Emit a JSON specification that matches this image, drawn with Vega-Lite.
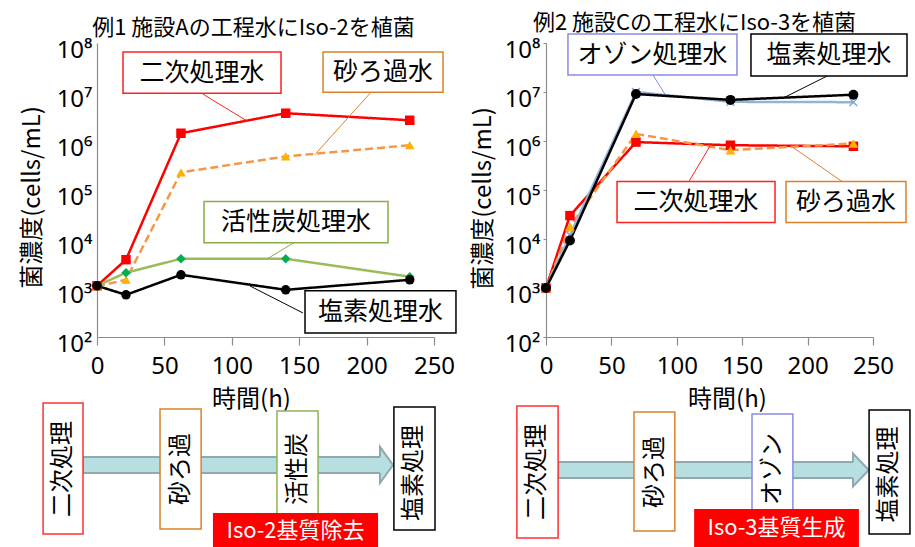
{
  "$schema": "https://vega.github.io/schema/vega-lite/v6.json",
  "background": "white",
  "padding": {"left": 20, "top": 12, "right": 5, "bottom": 0},
  "bounds": "flush",
  "columns": 2,
  "spacing": {"row": 63, "column": 112},
  "resolve": {"scale": {"stroke": "independent", "fill": "independent", "shape": "independent", "size": "independent", "strokeDash": "independent"}},
  "config": {
    "view": {"stroke": null},
    "font": "Noto Sans CJK JP",
    "title": {"font": "Noto Sans CJK JP", "fontSize": 22, "fontWeight": "normal", "color": "#000000", "anchor": "middle", "frame": "group", "offset": -2},
    "axis": {
      "domainColor": "#8C8C8C", "domainWidth": 1.2, "tickColor": "#8C8C8C", "grid": false,
      "labelFont": "Noto Sans", "labelFontSize": 24, "labelColor": "#000000",
      "labelOverlap": false, "labelFlush": false,
      "titleFont": "Noto Sans CJK JP", "titleFontSize": 24, "titleFontWeight": "normal", "titleColor": "#000000"
    },
    "axisX": {"tickSize": 8, "tickWidth": 1.2, "labelPadding": 9},
    "axisY": {"ticks": false, "labelPadding": 5, "labelBaseline": "middle", "labelOffset": 7},
    "text": {"font": "Noto Sans CJK JP", "color": "#000000"}
  },
  "datasets": {
    "plantA": [
      {"water": "二次処理水", "time": 0, "cells": 1110},
      {"water": "二次処理水", "time": 21.5, "cells": 3780},
      {"water": "二次処理水", "time": 62.3, "cells": 1440000},
      {"water": "二次処理水", "time": 140, "cells": 3690000},
      {"water": "二次処理水", "time": 232, "cells": 2650000},
      {"water": "砂ろ過水", "time": 0, "cells": 1080},
      {"water": "砂ろ過水", "time": 21.5, "cells": 1480},
      {"water": "砂ろ過水", "time": 62.3, "cells": 229000},
      {"water": "砂ろ過水", "time": 140, "cells": 485000},
      {"water": "砂ろ過水", "time": 232, "cells": 820000},
      {"water": "活性炭処理水", "time": 0, "cells": 1110},
      {"water": "活性炭処理水", "time": 21.5, "cells": 2050},
      {"water": "活性炭処理水", "time": 62.3, "cells": 3950},
      {"water": "活性炭処理水", "time": 140, "cells": 3950},
      {"water": "活性炭処理水", "time": 232, "cells": 1700},
      {"water": "塩素処理水", "time": 0, "cells": 1110},
      {"water": "塩素処理水", "time": 21.5, "cells": 725},
      {"water": "塩素処理水", "time": 62.3, "cells": 1860},
      {"water": "塩素処理水", "time": 140, "cells": 918},
      {"water": "塩素処理水", "time": 232, "cells": 1470}
    ],
    "plantC": [
      {"water": "二次処理水", "time": 0, "cells": 1000},
      {"water": "二次処理水", "time": 18.3, "cells": 30000},
      {"water": "二次処理水", "time": 68.8, "cells": 950000},
      {"water": "二次処理水", "time": 141, "cells": 820000},
      {"water": "二次処理水", "time": 235, "cells": 780000},
      {"water": "砂ろ過水", "time": 0, "cells": 1000},
      {"water": "砂ろ過水", "time": 18.3, "cells": 18000},
      {"water": "砂ろ過水", "time": 68.8, "cells": 1400000},
      {"water": "砂ろ過水", "time": 141, "cells": 650000},
      {"water": "砂ろ過水", "time": 235, "cells": 890000},
      {"water": "オゾン処理水", "time": 0, "cells": 1000},
      {"water": "オゾン処理水", "time": 18.3, "cells": 12000},
      {"water": "オゾン処理水", "time": 68.8, "cells": 10000000},
      {"water": "オゾン処理水", "time": 141, "cells": 6300000},
      {"water": "オゾン処理水", "time": 235, "cells": 6200000},
      {"water": "塩素処理水", "time": 0, "cells": 1000},
      {"water": "塩素処理水", "time": 18.3, "cells": 9300},
      {"water": "塩素処理水", "time": 68.8, "cells": 9100000},
      {"water": "塩素処理水", "time": 141, "cells": 6900000},
      {"water": "塩素処理水", "time": 235, "cells": 8800000}
    ],
    "notesA": [
      {"water": "二次処理水", "t1": 19.3, "t2": 136.5, "c1": 65500000, "c2": 9460000, "tm": 77.9, "cm": 24900000, "lt1": 78.6, "lc1": 9040000, "lt2": 112, "lc2": 2500000},
      {"water": "砂ろ過水", "t1": 167.7, "t2": 256.7, "c1": 65500000, "c2": 9930000, "tm": 212.2, "cm": 25500000, "lt1": 203.3, "lc1": 9930000, "lt2": 161.7, "lc2": 530000},
      {"water": "活性炭処理水", "t1": 79.4, "t2": 215.9, "c1": 58200, "c2": 8410, "tm": 147.6, "cm": 22100, "lt1": 146.1, "lc1": 8410, "lt2": 126.1, "lc2": 3900},
      {"water": "塩素処理水", "t1": 154.3, "t2": 266.3, "c1": 875, "c2": 121, "tm": 210.3, "cm": 325, "lt1": 152.8, "lc1": 309, "lt2": 113.5, "lc2": 1100}
    ],
    "notesC": [
      {"water": "オゾン処理水", "t1": 16.8, "t2": 146.0, "c1": 153000000, "c2": 22100000, "tm": 81.4, "cm": 58200000, "lt1": 81.8, "lc1": 22100000, "lt2": 91.0, "lc2": 9000000},
      {"water": "塩素処理水", "t1": 156.7, "t2": 276.0, "c1": 153000000, "c2": 21100000, "tm": 216.4, "cm": 56900000, "lt1": 214.8, "lc1": 21100000, "lt2": 181.2, "lc2": 7500000},
      {"water": "二次処理水", "t1": 54.3, "t2": 175.1, "c1": 149000, "c2": 21600, "tm": 114.7, "cm": 56800, "lt1": 109.3, "lc1": 149000, "lt2": 126.1, "lc2": 850000},
      {"water": "砂ろ過水", "t1": 183.5, "t2": 275.2, "c1": 149000, "c2": 21600, "tm": 229.4, "cm": 56800, "lt1": 226.3, "lc1": 149000, "lt2": 188.8, "lc2": 740000}
    ],
    "flowA": [
      {"stage": "二次処理", "x1": -16.0, "x2": -4.15, "y1": 10.1, "y2": 98.0, "xm": -10.1, "ym": 53.7},
      {"stage": "砂ろ過", "x1": 18.7, "x2": 30.9, "y1": 13.4, "y2": 94.0, "xm": 24.8, "ym": 53.7},
      {"stage": "活性炭", "x1": 53.4, "x2": 65.6, "y1": 14.8, "y2": 92.6, "xm": 59.5, "ym": 53.7},
      {"stage": "塩素処理", "x1": 88.1, "x2": 100.3, "y1": 12.8, "y2": 95.3, "xm": 94.2, "ym": 51.0}
    ],
    "flowC": [
      {"stage": "二次処理", "x1": -8.9, "x2": 3.7, "y1": 7.4, "y2": 96.0, "xm": -2.6, "ym": 51.7},
      {"stage": "砂ろ過", "x1": 26.9, "x2": 39.4, "y1": 12.1, "y2": 91.9, "xm": 33.2, "ym": 51.7},
      {"stage": "オゾン", "x1": 63.0, "x2": 75.5, "y1": 21.5, "y2": 90.6, "xm": 69.3, "ym": 53.7},
      {"stage": "塩素処理", "x1": 98.8, "x2": 111.3, "y1": 10.1, "y2": 93.3, "xm": 105.0, "ym": 50.0}
    ]
  },
  "concat": [
    {
      "width": 337,
      "height": 294,
      "title": {"text": "例1 施設Aの工程水にIso-2を植菌", "dx": -12},
      "layer": [
        {
          "data": {"name": "plantA"},
          "mark": {"type": "line", "strokeWidth": 2.5, "clip": false},
          "encoding": {
            "x": {"field": "time", "type": "quantitative", "scale": {"domain": [0, 250], "nice": false},
                  "axis": {"values": [0, 50, 100, 150, 200, 250], "title": "時間(h)", "titleX": 154, "titleY": 62, "titleBaseline": "middle", "titleAlign": "center"}},
            "y": {"field": "cells", "type": "quantitative", "scale": {"type": "log", "domain": [100, 100000000], "nice": false},
                  "axis": {"values": [100, 1000, 10000, 100000, 1000000, 10000000, 100000000],
                           "labelExpr": "'10' + ['⁰','¹','²','³','⁴','⁵','⁶','⁷','⁸'][round(log(datum.value) / LN10)]",
                           "title": "菌濃度(cells/mL)", "titleX": -65, "titleY": 154, "titleBaseline": "middle", "titleAlign": "center"}},
            "stroke": {"field": "water", "type": "nominal", "legend": null,
                       "scale": {"domain": ["二次処理水", "砂ろ過水", "活性炭処理水", "塩素処理水"], "range": ["#FF0000", "#F79646", "#9BBB59", "#000000"]}},
            "strokeDash": {"field": "water", "type": "nominal", "legend": null,
                           "scale": {"domain": ["二次処理水", "砂ろ過水", "活性炭処理水", "塩素処理水"], "range": [[1, 0], [8, 4], [1, 0], [1, 0]]}}
          }
        },
        {
          "data": {"name": "plantA"},
          "mark": {"type": "point", "filled": true, "opacity": 1, "clip": false},
          "encoding": {
            "x": {"field": "time", "type": "quantitative", "scale": {"domain": [0, 250], "nice": false}},
            "y": {"field": "cells", "type": "quantitative", "scale": {"type": "log", "domain": [100, 100000000], "nice": false}},
            "shape": {"field": "water", "type": "nominal", "legend": null,
                      "scale": {"domain": ["二次処理水", "砂ろ過水", "活性炭処理水", "塩素処理水"], "range": ["square", "triangle-up", "diamond", "circle"]}},
            "fill": {"field": "water", "type": "nominal", "legend": null,
                     "scale": {"domain": ["二次処理水", "砂ろ過水", "活性炭処理水", "塩素処理水"], "range": ["#FF0000", "#FFB000", "#00B050", "#000000"]}},
            "size": {"field": "water", "type": "nominal", "legend": null,
                     "scale": {"domain": ["二次処理水", "砂ろ過水", "活性炭処理水", "塩素処理水"], "range": [90, 90, 45, 72]}}
          }
        },
        {
          "data": {"name": "notesA"},
          "layer": [
            {
              "mark": {"type": "rule", "strokeWidth": 1, "clip": false},
              "encoding": {
                "x": {"field": "lt1", "type": "quantitative", "scale": {"domain": [0, 250], "nice": false}},
                "x2": {"field": "lt2"},
                "y": {"field": "lc1", "type": "quantitative", "scale": {"type": "log", "domain": [100, 100000000], "nice": false}},
                "y2": {"field": "lc2"},
                "stroke": {"field": "water", "type": "nominal", "legend": null,
                           "scale": {"domain": ["二次処理水", "砂ろ過水", "活性炭処理水", "塩素処理水"], "range": ["#FF2020", "#D9822B", "#86AE4A", "#000000"]}}
              }
            },
            {
              "mark": {"type": "rect", "fill": "white", "strokeWidth": 1.5, "clip": false},
              "encoding": {
                "x": {"field": "t1", "type": "quantitative", "scale": {"domain": [0, 250], "nice": false}},
                "x2": {"field": "t2"},
                "y": {"field": "c1", "type": "quantitative", "scale": {"type": "log", "domain": [100, 100000000], "nice": false}},
                "y2": {"field": "c2"},
                "stroke": {"field": "water", "type": "nominal", "legend": null,
                           "scale": {"domain": ["二次処理水", "砂ろ過水", "活性炭処理水", "塩素処理水"], "range": ["#FF2020", "#D9822B", "#86AE4A", "#000000"]}}
              }
            },
            {
              "mark": {"type": "text", "fontSize": 25, "align": "center", "baseline": "middle", "clip": false},
              "encoding": {
                "x": {"field": "tm", "type": "quantitative", "scale": {"domain": [0, 250], "nice": false}},
                "y": {"field": "cm", "type": "quantitative", "scale": {"type": "log", "domain": [100, 100000000], "nice": false}},
                "text": {"field": "water"}
              }
            }
          ]
        }
      ],
      "resolve": {"scale": {"stroke": "independent"}}
    },
    {
      "width": 327,
      "height": 294,
      "title": {"text": "例2 施設Cの工程水にIso-3を植菌", "dx": -15},
      "layer": [
        {
          "data": {"name": "plantC"},
          "mark": {"type": "line", "strokeWidth": 2.5, "clip": false},
          "encoding": {
            "x": {"field": "time", "type": "quantitative", "scale": {"domain": [0, 250], "nice": false},
                  "axis": {"values": [0, 50, 100, 150, 200, 250], "title": "時間(h)", "titleX": 181, "titleY": 62, "titleBaseline": "middle", "titleAlign": "center"}},
            "y": {"field": "cells", "type": "quantitative", "scale": {"type": "log", "domain": [100, 100000000], "nice": false},
                  "axis": {"values": [100, 1000, 10000, 100000, 1000000, 10000000, 100000000],
                           "labelExpr": "'10' + ['⁰','¹','²','³','⁴','⁵','⁶','⁷','⁸'][round(log(datum.value) / LN10)]",
                           "ticks": true, "tickSize": 3, "labelPadding": 3,
                           "title": "菌濃度(cells/mL)", "titleX": -63, "titleY": 155, "titleBaseline": "middle", "titleAlign": "center"}},
            "stroke": {"field": "water", "type": "nominal", "legend": null,
                       "scale": {"domain": ["二次処理水", "砂ろ過水", "オゾン処理水", "塩素処理水"], "range": ["#FF0000", "#F79646", "#95B3D7", "#000000"]}},
            "strokeDash": {"field": "water", "type": "nominal", "legend": null,
                           "scale": {"domain": ["二次処理水", "砂ろ過水", "オゾン処理水", "塩素処理水"], "range": [[1, 0], [8, 4], [1, 0], [1, 0]]}}
          }
        },
        {
          "data": {"name": "plantC"},
          "transform": [{"filter": "datum.water === 'オゾン処理水'"}],
          "mark": {"type": "point", "shape": "M-1,-1L1,1M-1,1L1,-1", "size": 60, "filled": false, "stroke": "#7FA7DC", "strokeWidth": 1.5, "opacity": 1, "clip": false},
          "encoding": {
            "x": {"field": "time", "type": "quantitative", "scale": {"domain": [0, 250], "nice": false}},
            "y": {"field": "cells", "type": "quantitative", "scale": {"type": "log", "domain": [100, 100000000], "nice": false}}
          }
        },
        {
          "data": {"name": "plantC"},
          "transform": [{"filter": "datum.water !== 'オゾン処理水'"}],
          "mark": {"type": "point", "filled": true, "opacity": 1, "clip": false},
          "encoding": {
            "x": {"field": "time", "type": "quantitative", "scale": {"domain": [0, 250], "nice": false}},
            "y": {"field": "cells", "type": "quantitative", "scale": {"type": "log", "domain": [100, 100000000], "nice": false}},
            "shape": {"field": "water", "type": "nominal", "legend": null,
                      "scale": {"domain": ["二次処理水", "砂ろ過水", "塩素処理水"], "range": ["square", "triangle-up", "circle"]}},
            "fill": {"field": "water", "type": "nominal", "legend": null,
                     "scale": {"domain": ["二次処理水", "砂ろ過水", "塩素処理水"], "range": ["#FF0000", "#FFB000", "#000000"]}},
            "size": {"field": "water", "type": "nominal", "legend": null,
                     "scale": {"domain": ["二次処理水", "砂ろ過水", "塩素処理水"], "range": [90, 100, 72]}}
          }
        },
        {
          "data": {"name": "notesC"},
          "layer": [
            {
              "mark": {"type": "rule", "strokeWidth": 1, "clip": false},
              "encoding": {
                "x": {"field": "lt1", "type": "quantitative", "scale": {"domain": [0, 250], "nice": false}},
                "x2": {"field": "lt2"},
                "y": {"field": "lc1", "type": "quantitative", "scale": {"type": "log", "domain": [100, 100000000], "nice": false}},
                "y2": {"field": "lc2"},
                "stroke": {"field": "water", "type": "nominal", "legend": null,
                           "scale": {"domain": ["二次処理水", "砂ろ過水", "オゾン処理水", "塩素処理水"], "range": ["#FF2020", "#D9822B", "#8A8AE6", "#000000"]}}
              }
            },
            {
              "mark": {"type": "rect", "fill": "white", "strokeWidth": 1.5, "clip": false},
              "encoding": {
                "x": {"field": "t1", "type": "quantitative", "scale": {"domain": [0, 250], "nice": false}},
                "x2": {"field": "t2"},
                "y": {"field": "c1", "type": "quantitative", "scale": {"type": "log", "domain": [100, 100000000], "nice": false}},
                "y2": {"field": "c2"},
                "stroke": {"field": "water", "type": "nominal", "legend": null,
                           "scale": {"domain": ["二次処理水", "砂ろ過水", "オゾン処理水", "塩素処理水"], "range": ["#FF2020", "#D9822B", "#8A8AE6", "#000000"]}}
              }
            },
            {
              "mark": {"type": "text", "fontSize": 25, "align": "center", "baseline": "middle", "clip": false},
              "encoding": {
                "x": {"field": "tm", "type": "quantitative", "scale": {"domain": [0, 250], "nice": false}},
                "y": {"field": "cm", "type": "quantitative", "scale": {"type": "log", "domain": [100, 100000000], "nice": false}},
                "text": {"field": "water"}
              }
            }
          ]
        }
      ],
      "resolve": {"scale": {"stroke": "independent"}}
    },
    {
      "width": 337,
      "height": 149,
      "layer": [
        {
          "data": {"values": [{"x1": -4.15, "x2": 84.6, "y1": 51.0, "y2": 61.7}]},
          "mark": {"type": "rect", "fill": "#B7DEE1", "stroke": "#8FA9AC", "strokeWidth": 2, "clip": false},
          "encoding": {
            "x": {"field": "x1", "type": "quantitative", "scale": {"domain": [0, 100], "nice": false, "zero": false}, "axis": null},
            "x2": {"field": "x2"},
            "y": {"field": "y1", "type": "quantitative", "scale": {"domain": [0, 100], "nice": false, "zero": false}, "axis": null},
            "y2": {"field": "y2"}
          }
        },
        {
          "data": {"values": [{"x": 85.9, "y": 56.4}]},
          "mark": {"type": "point", "shape": "M-0.36,-0.46L-0.36,-1L0.36,0L-0.36,1L-0.36,0.46", "size": 1296, "filled": true, "fill": "#B7DEE1", "stroke": "#8FA9AC", "strokeWidth": 2, "opacity": 1, "clip": false},
          "encoding": {
            "x": {"field": "x", "type": "quantitative", "scale": {"domain": [0, 100], "nice": false, "zero": false}},
            "y": {"field": "y", "type": "quantitative", "scale": {"domain": [0, 100], "nice": false, "zero": false}}
          }
        },
        {
          "data": {"name": "flowA"},
          "mark": {"type": "rect", "fill": "white", "strokeWidth": 1.5, "clip": false},
          "encoding": {
            "x": {"field": "x1", "type": "quantitative", "scale": {"domain": [0, 100], "nice": false, "zero": false}},
            "x2": {"field": "x2"},
            "y": {"field": "y1", "type": "quantitative", "scale": {"domain": [0, 100], "nice": false, "zero": false}},
            "y2": {"field": "y2"},
            "stroke": {"field": "stage", "type": "nominal", "legend": null,
                       "scale": {"domain": ["二次処理", "砂ろ過", "活性炭", "塩素処理"], "range": ["#FF3030", "#D9822B", "#8DB454", "#000000"]}}
          }
        },
        {
          "data": {"name": "flowA"},
          "mark": {"type": "text", "angle": 270, "fontSize": 24, "align": "center", "baseline": "middle", "clip": false},
          "encoding": {
            "x": {"field": "xm", "type": "quantitative", "scale": {"domain": [0, 100], "nice": false, "zero": false}},
            "y": {"field": "ym", "type": "quantitative", "scale": {"domain": [0, 100], "nice": false, "zero": false}},
            "text": {"field": "stage"}
          }
        },
        {
          "data": {"values": [{"x1": 34.4, "x2": 83.4, "y1": 0, "y2": 24.2, "xm": 58.9, "ym": 12.1, "label": "Iso-2基質除去"}]},
          "layer": [
            {
              "mark": {"type": "rect", "fill": "#FF0000", "clip": false},
              "encoding": {
                "x": {"field": "x1", "type": "quantitative", "scale": {"domain": [0, 100], "nice": false, "zero": false}},
                "x2": {"field": "x2"},
                "y": {"field": "y1", "type": "quantitative", "scale": {"domain": [0, 100], "nice": false, "zero": false}},
                "y2": {"field": "y2"}
              }
            },
            {
              "mark": {"type": "text", "fontSize": 22, "color": "white", "align": "center", "baseline": "middle", "clip": false},
              "encoding": {
                "x": {"field": "xm", "type": "quantitative", "scale": {"domain": [0, 100], "nice": false, "zero": false}},
                "y": {"field": "ym", "type": "quantitative", "scale": {"domain": [0, 100], "nice": false, "zero": false}},
                "text": {"field": "label"}
              }
            }
          ]
        }
      ]
    },
    {
      "width": 327,
      "height": 149,
      "layer": [
        {
          "data": {"values": [{"x1": 3.7, "x2": 94.5, "y1": 47.7, "y2": 58.4}]},
          "mark": {"type": "rect", "fill": "#B7DEE1", "stroke": "#8FA9AC", "strokeWidth": 2, "clip": false},
          "encoding": {
            "x": {"field": "x1", "type": "quantitative", "scale": {"domain": [0, 100], "nice": false, "zero": false}, "axis": null},
            "x2": {"field": "x2"},
            "y": {"field": "y1", "type": "quantitative", "scale": {"domain": [0, 100], "nice": false, "zero": false}, "axis": null},
            "y2": {"field": "y2"}
          }
        },
        {
          "data": {"values": [{"x": 96.3, "y": 53.0}]},
          "mark": {"type": "point", "shape": "M-0.48,-0.48L-0.48,-1L0.48,0L-0.48,1L-0.48,0.48", "size": 1089, "filled": true, "fill": "#B7DEE1", "stroke": "#8FA9AC", "strokeWidth": 2, "opacity": 1, "clip": false},
          "encoding": {
            "x": {"field": "x", "type": "quantitative", "scale": {"domain": [0, 100], "nice": false, "zero": false}},
            "y": {"field": "y", "type": "quantitative", "scale": {"domain": [0, 100], "nice": false, "zero": false}}
          }
        },
        {
          "data": {"name": "flowC"},
          "mark": {"type": "rect", "fill": "white", "strokeWidth": 1.5, "clip": false},
          "encoding": {
            "x": {"field": "x1", "type": "quantitative", "scale": {"domain": [0, 100], "nice": false, "zero": false}},
            "x2": {"field": "x2"},
            "y": {"field": "y1", "type": "quantitative", "scale": {"domain": [0, 100], "nice": false, "zero": false}},
            "y2": {"field": "y2"},
            "stroke": {"field": "stage", "type": "nominal", "legend": null,
                       "scale": {"domain": ["二次処理", "砂ろ過", "オゾン", "塩素処理"], "range": ["#FF3030", "#D9822B", "#8A8AE6", "#000000"]}}
          }
        },
        {
          "data": {"name": "flowC"},
          "mark": {"type": "text", "angle": 270, "fontSize": 24, "align": "center", "baseline": "middle", "clip": false},
          "encoding": {
            "x": {"field": "xm", "type": "quantitative", "scale": {"domain": [0, 100], "nice": false, "zero": false}},
            "y": {"field": "ym", "type": "quantitative", "scale": {"domain": [0, 100], "nice": false, "zero": false}},
            "text": {"field": "stage"}
          }
        },
        {
          "data": {"values": [{"x1": 45.3, "x2": 95.7, "y1": 1.3, "y2": 26.8, "xm": 70.5, "ym": 14.1, "label": "Iso-3基質生成"}]},
          "layer": [
            {
              "mark": {"type": "rect", "fill": "#FF0000", "clip": false},
              "encoding": {
                "x": {"field": "x1", "type": "quantitative", "scale": {"domain": [0, 100], "nice": false, "zero": false}},
                "x2": {"field": "x2"},
                "y": {"field": "y1", "type": "quantitative", "scale": {"domain": [0, 100], "nice": false, "zero": false}},
                "y2": {"field": "y2"}
              }
            },
            {
              "mark": {"type": "text", "fontSize": 22, "color": "white", "align": "center", "baseline": "middle", "clip": false},
              "encoding": {
                "x": {"field": "xm", "type": "quantitative", "scale": {"domain": [0, 100], "nice": false, "zero": false}},
                "y": {"field": "ym", "type": "quantitative", "scale": {"domain": [0, 100], "nice": false, "zero": false}},
                "text": {"field": "label"}
              }
            }
          ]
        }
      ]
    }
  ]
}
